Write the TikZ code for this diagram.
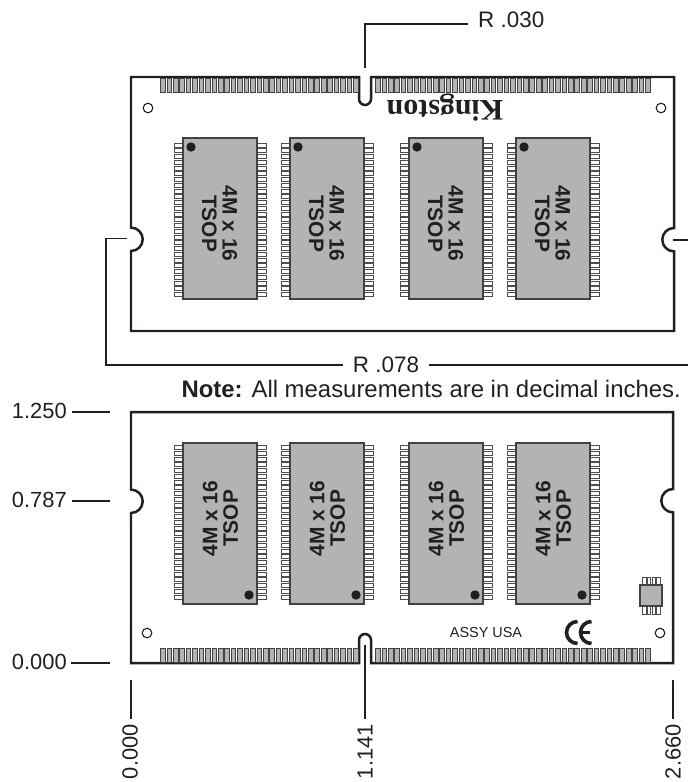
\documentclass[tikz,border=0pt]{standalone}
\usepackage{fontspec}
\setmainfont{Liberation Sans}
\newfontfamily\kfont{Liberation Serif}
\definecolor{ink}{HTML}{231F20}
\definecolor{chipgray}{HTML}{B3B3B3}
\tikzset{
  board/.style={draw=ink,line width=2.5pt,line join=miter},
  lead/.style={draw=ink,line width=1.1pt},
  contact/.style={draw=ink!85,fill=chipgray,line width=0.7pt},
  pinbox/.style={draw=ink!80,fill=white,line width=0.7pt},
  chipbody/.style={draw=ink!85,fill=chipgray,line width=1.1pt},
  dot/.style={fill=ink,draw=none},
  hole/.style={draw=ink,fill=white,line width=1.1pt},
  lbl/.style={font=\fontsize{22}{24}\selectfont,text=ink,inner sep=0pt},
  chiptext/.style={font=\fontsize{21}{20.6}\selectfont\bfseries,text=ink,inner sep=0pt,align=center},
}
\newcommand{\pinrow}[2]{%
  \foreach \k in {0,...,26} {
    \draw[pinbox] (#2-9,{#1+\k*5.75-2}) rectangle ++(9,4);
    \draw[pinbox] (#2+74,{#1+\k*5.75-2}) rectangle ++(9,4);
  }%
}
\begin{document}
\begin{tikzpicture}[x=1bp,y=-1bp]
\path[use as bounding box] (0,0) rectangle (688,782);

% ---- upper board
\draw[board] (131,77) -- (359,77) -- (359,99) arc[start angle=180,end angle=0,radius=6]
  -- (371,77) -- (674,77) -- (674,228) arc[start angle=-90,end angle=-270,radius=11.7]
  -- (674,331) -- (131,331) -- (131,251) arc[start angle=90,end angle=-90,radius=11.7] -- cycle;
\foreach \k in {0,...,30} \draw[contact] ({160.5+\k*6.43},78) rectangle ++(4.6,14);
\foreach \k in {0,...,42} \draw[contact] ({375.5+\k*6.43},78) rectangle ++(4.6,14);
\draw[hole] (148,108) circle[radius=4.8];
\draw[hole] (661,108) circle[radius=4.8];
\foreach \cx in {183,290,409,516} {
  \pinrow{145}{\cx}
  \draw[chipbody] (\cx,138) rectangle ++(74,161);
  \fill[dot] (\cx+8,147) circle[radius=4.7];
  \node[chiptext,rotate=-90] at (\cx+36.5,223.5) {4M x 16\\TSOP};
}
\node[inner sep=0pt,rotate=180,text=ink] (brand) at (445,107.5) {\kfont\bfseries\fontsize{30}{30}\selectfont Kingston};

% ---- lower board
\draw[board] (131,412) -- (673,412) -- (673,489) arc[start angle=-90,end angle=-270,radius=11.7]
  -- (673,663) -- (371,663) -- (371,640) arc[start angle=0,end angle=-180,radius=6]
  -- (359,663) -- (131,663) -- (131,513) arc[start angle=90,end angle=-90,radius=11.7] -- cycle;
\foreach \k in {0,...,30} \draw[contact] ({160.5+\k*6.43},648) rectangle ++(4.6,14);
\foreach \k in {0,...,42} \draw[contact] ({375.5+\k*6.43},648) rectangle ++(4.6,14);
\draw[hole] (147,633) circle[radius=4.8];
\draw[hole] (660,633) circle[radius=4.8];
\foreach \cx in {183,290,409,516} {
  \pinrow{447.5}{\cx}
  \draw[chipbody] (\cx,443) rectangle ++(74,161);
  \fill[dot] (\cx+66,595) circle[radius=4.7];
  \node[chiptext,rotate=90] at (\cx+37.5,518.5) {4M x 16\\TSOP};
}
% small chip
\foreach \k in {0,...,3} {
  \draw[pinbox] ({642.5+\k*4.7},577) rectangle ++(3.4,8);
  \draw[pinbox] ({642.5+\k*4.7},606) rectangle ++(3.4,8);
}
\draw[chipbody,line width=1.4pt] (640,585) rectangle (662,606);
\node[inner sep=0pt,text=ink,font=\fontsize{14.5}{16}\selectfont] (assy) at (486,632.5) {ASSY USA};
% CE mark
\draw[ink,line width=3.6pt] (577.5,621.5) arc[start angle=-90,end angle=-270,radius=11];
\draw[ink,line width=3.6pt] (591.5,621.5) arc[start angle=-90,end angle=-270,radius=11];
\draw[ink,line width=3pt] (582,632.5) -- (590,632.5);

% ---- labels and leaders
\node[lbl,anchor=west,font=\fontsize{22.5}{24}\selectfont] (r030) at (478,20) {R .030};
\coordinate (a030) at (365,68);
\draw[lead] (a030) -- (365,24) -- (468,24);
\node[lbl,font=\fontsize{22.5}{24}\selectfont] (r078) at (386,365) {R .078};
\coordinate (a078l) at (127,238.5);
\coordinate (a078r) at (673,240);
\draw[lead] (a078l) -- (106,238.5) -- (106,365) -- (343,365);
\draw[lead] (429,365) -- (688,365);
\draw[lead] (a078r) -- (688,240);
\node[lbl,anchor=base east,font=\fontsize{24}{26}\selectfont] (note) at (681,397) {\textbf{Note:} All measurements are in decimal inches.};

\node[lbl,anchor=east] (y1250) at (67,411) {1.250};
\node[lbl,anchor=east] (y0787) at (67,500) {0.787};
\node[lbl,anchor=east] (y0000) at (67,662) {0.000};
\draw[lead] (72,412) -- (110,412);
\draw[lead] (72,501) -- (110,501);
\draw[lead] (71,663) -- (110,663);
\node[lbl,rotate=90,anchor=east] (x0000) at (130,724) {0.000};
\node[lbl,rotate=90,anchor=east] (x1141) at (365,724) {1.141};
\node[lbl,rotate=90,anchor=east] (x2660) at (673,724) {2.660};
\draw[lead] (131,680) -- (131,719);
\draw[lead] (365,645) -- (365,719);
\draw[lead] (673,680) -- (673,719);
\end{tikzpicture}
\end{document}
